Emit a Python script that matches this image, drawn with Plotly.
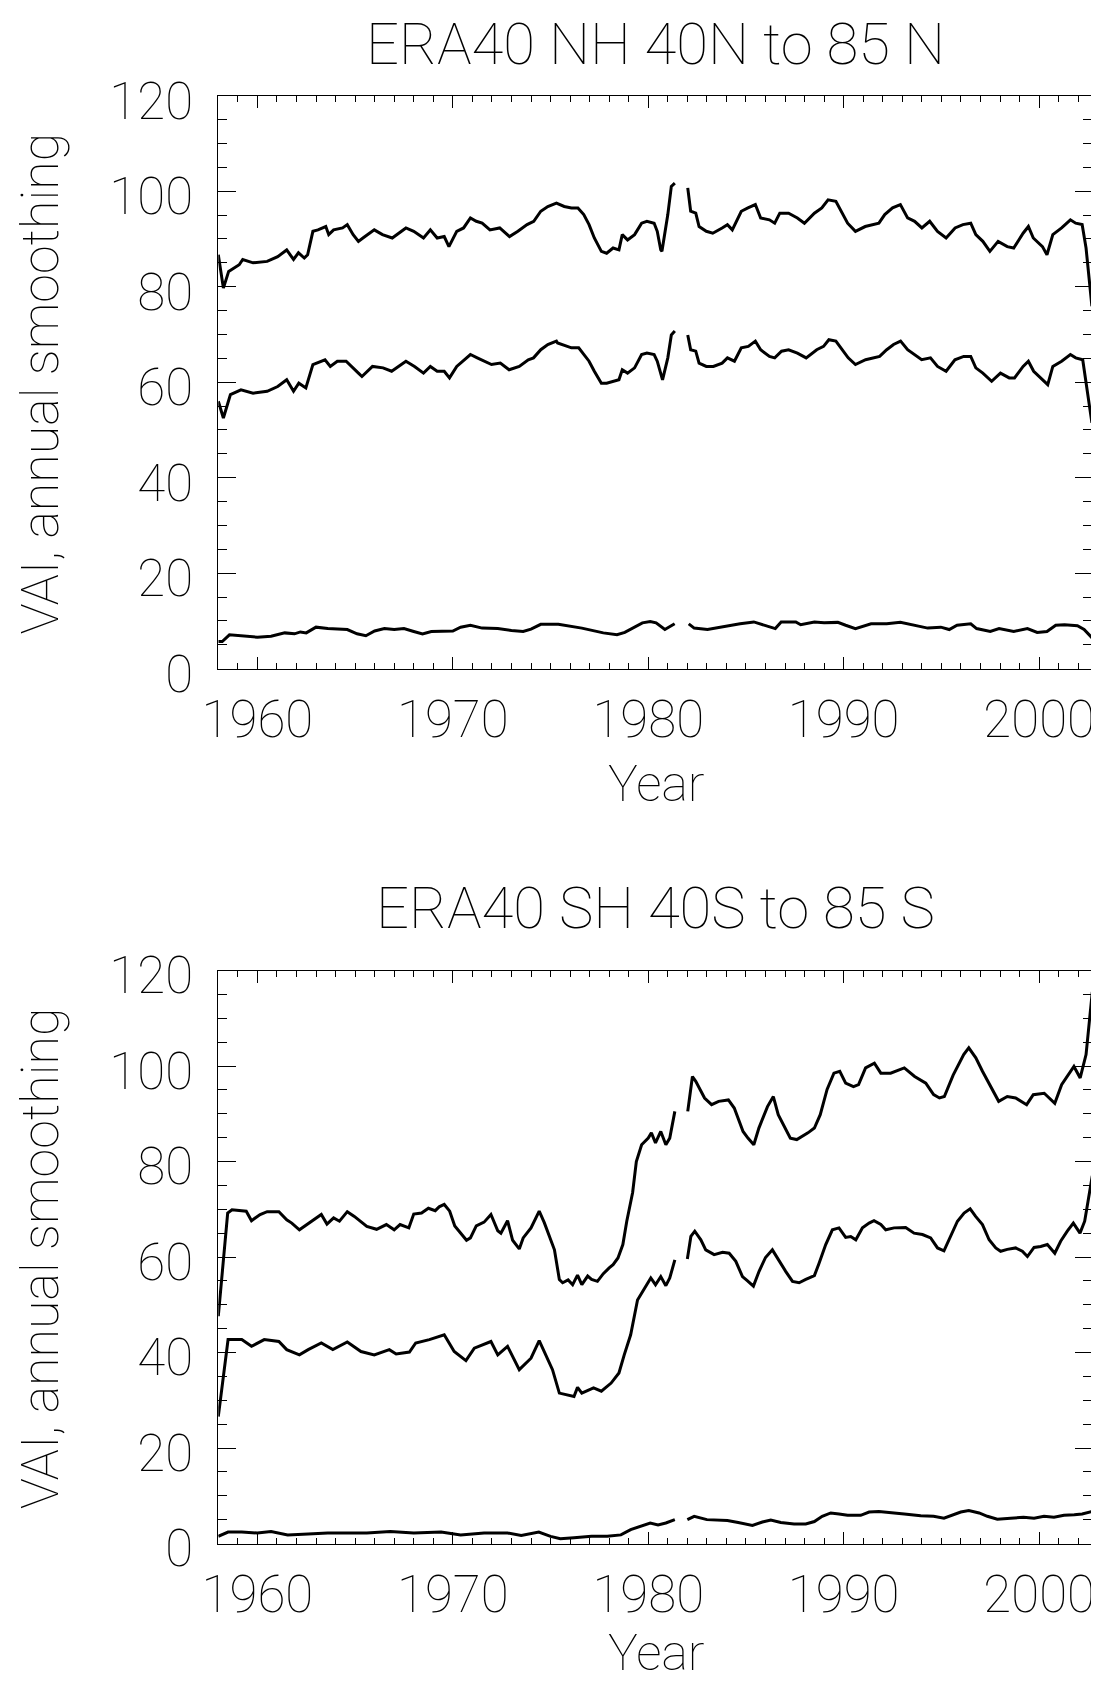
import plotly.graph_objects as go

# ---------------- data ----------------
GAP = None

nh_upper_years = [1958.0, 1958.26, 1958.53, 1959.07, 1959.25, 1959.78, 1960.5, 1961.04, 1961.5, 1961.85,
    1962.1, 1962.4, 1962.57, 1962.84, 1963.1, 1963.5, 1963.65, 1963.9, 1964.36, 1964.6, 1964.9,
    1965.17, 1965.4, 1965.98, 1966.4, 1966.9, 1967.6, 1968.0, 1968.5, 1968.85, 1969.2, 1969.56,
    1969.8, 1970.2, 1970.55, 1970.9, 1971.2, 1971.5, 1971.9, 1972.4, 1972.9, 1973.33, 1973.8,
    1974.14, 1974.5, 1974.86, 1975.3, 1975.7, 1976.07, 1976.4, 1976.7, 1976.97, 1977.24, 1977.6,
    1977.87, 1978.2, 1978.5, 1978.67, 1978.94, 1979.3, 1979.66, 1979.93, 1980.3, 1980.46, 1980.64,
    1980.7, 1981.0, 1981.18, 1981.36, 1981.7,
    1982.02, 1982.17, 1982.43, 1982.6, 1982.97, 1983.3, 1983.78, 1984.05, 1984.3, 1984.76, 1985.1,
    1985.48, 1985.75, 1986.2, 1986.47, 1986.73, 1987.18, 1987.63, 1987.99, 1988.5, 1988.88, 1989.2,
    1989.6, 1989.87, 1990.2, 1990.6, 1991.1, 1991.8, 1992.1, 1992.5, 1992.9, 1993.27, 1993.63,
    1994.0, 1994.4, 1994.8, 1995.24, 1995.7, 1996.1, 1996.5, 1996.76, 1997.12, 1997.48, 1997.9,
    1998.37, 1998.7, 1999.18, 1999.45, 1999.7, 2000.17, 2000.4, 2000.7, 2001.15, 2001.6, 2001.87,
    2002.2, 2002.4, 2002.7]
nh_upper_vals = [86.7, 79.7, 83.2, 84.6, 85.7, 85.0, 85.3, 86.3, 87.7, 85.7,
    87.1, 86.0, 86.7, 91.6, 91.9, 92.6, 90.9, 91.9, 92.3, 93.0, 90.9,
    89.5, 90.2, 91.9, 90.9, 90.2, 92.3, 91.6, 90.2, 91.9, 90.2, 90.5,
    88.4, 91.6, 92.3, 94.4, 93.7, 93.3, 91.9, 92.3, 90.5, 91.6, 93.0,
    93.7, 95.8, 96.8, 97.5, 96.8, 96.5, 96.5, 95.1, 93.0, 90.2, 87.4,
    87.0, 88.1, 87.7, 90.9, 89.8, 90.9, 93.3, 93.7, 93.3, 91.6, 87.7,
    87.4, 95.1, 101.0, 101.7, GAP,
    100.7, 95.8, 95.4, 92.6, 91.6, 91.2, 92.3, 93.0, 91.9, 95.8, 96.5,
    97.2, 94.4, 94.0, 93.3, 95.4, 95.4, 94.4, 93.3, 95.4, 96.5, 98.2,
    97.9, 95.8, 93.3, 91.6, 92.6, 93.3, 95.1, 96.5, 97.2, 94.4, 93.7,
    92.3, 93.7, 91.6, 90.2, 92.3, 93.0, 93.3, 90.9, 89.5, 87.4, 89.5,
    88.4, 88.1, 91.2, 92.6, 90.2, 88.4, 86.7, 90.9, 92.3, 94.0, 93.3,
    93.0, 88.1, 75.9]

nh_middle_years = [1958.0, 1958.26, 1958.62, 1959.16, 1959.78, 1960.5, 1961.04, 1961.5, 1961.85, 1962.12,
    1962.48, 1962.84, 1963.46, 1963.73, 1964.09, 1964.54, 1965.17, 1965.35, 1965.89, 1966.43,
    1966.87, 1967.6, 1968.04, 1968.5, 1968.85, 1969.2, 1969.56, 1969.83, 1970.2, 1970.9, 1971.25,
    1971.62, 1971.98, 1972.43, 1972.88, 1973.4, 1973.86, 1974.13, 1974.5, 1974.86, 1975.3,
    1975.36, 1976.07, 1976.44, 1976.7, 1976.97, 1977.24, 1977.6, 1977.87, 1978.2, 1978.5, 1978.67,
    1978.94, 1979.3, 1979.66, 1979.93, 1980.3, 1980.46, 1980.73, 1981.0, 1981.18, 1981.36, 1981.7,
    1982.02, 1982.17, 1982.43, 1982.6, 1982.97, 1983.33, 1983.78, 1984.05, 1984.41, 1984.76,
    1985.12, 1985.48, 1985.75, 1986.2, 1986.47, 1986.82, 1987.18, 1987.63, 1988.08, 1988.62,
    1988.97, 1989.24, 1989.6, 1989.87, 1990.23, 1990.6, 1991.12, 1991.84, 1992.2, 1992.55, 1992.91,
    1993.27, 1993.63, 1993.99, 1994.44, 1994.8, 1995.24, 1995.69, 1996.14, 1996.5, 1996.76,
    1997.12, 1997.57, 1998.02, 1998.47, 1998.74, 1999.18, 1999.45, 1999.72, 2000.08, 2000.44,
    2000.7, 2001.15, 2001.6, 2001.87, 2002.23, 2002.4, 2002.7]
nh_middle_vals = [56.0, 52.5, 57.4, 58.4, 57.7, 58.1, 59.1, 60.5, 58.1, 59.8,
    58.8, 63.7, 64.7, 63.3, 64.4, 64.4, 61.9, 61.2, 63.3, 63.0,
    62.3, 64.4, 63.3, 61.9, 63.3, 62.3, 62.3, 60.9, 63.3, 65.8, 65.1,
    64.4, 63.7, 64.0, 62.6, 63.3, 64.7, 65.1, 66.8, 67.9, 68.6,
    68.2, 67.2, 67.2, 65.8, 64.4, 62.3, 59.8, 59.8, 60.2, 60.5, 62.6,
    61.9, 63.0, 65.8, 66.1, 65.8, 64.4, 60.5, 65.1, 69.9, 70.7, GAP,
    69.9, 66.8, 66.5, 64.0, 63.3, 63.3, 64.0, 65.1, 64.4, 67.2,
    67.5, 68.6, 66.8, 65.4, 65.1, 66.5, 66.8, 66.1, 65.1, 66.8,
    67.5, 68.9, 68.6, 67.2, 65.1, 63.7, 64.7, 65.4, 66.8, 67.9, 68.6,
    66.8, 65.8, 64.7, 65.1, 63.3, 62.3, 64.7, 65.4, 65.4, 63.0,
    61.9, 60.2, 61.9, 60.9, 60.9, 63.3, 64.4, 62.3, 60.9, 59.5,
    63.3, 64.4, 65.8, 65.1, 64.7, 60.2, 51.5]

nh_lower_years = [1958.0, 1958.2, 1958.57, 1959.16, 1960.0, 1960.7, 1961.4, 1961.9, 1962.2, 1962.5,
    1963.0, 1963.6, 1964.2, 1964.6, 1965.1, 1965.55, 1966.0, 1966.5, 1967.0, 1967.5, 1968.0,
    1968.45, 1968.9, 1969.6, 1970.0, 1970.4, 1970.9, 1971.5, 1972.3, 1973.0, 1973.6, 1974.0,
    1974.5, 1975.4, 1976.6, 1977.7, 1978.4, 1978.8, 1979.7, 1980.1, 1980.4, 1980.85, 1981.35, 1981.7,
    1982.07, 1982.35, 1983.03, 1983.9, 1984.7, 1985.4, 1985.9, 1986.5, 1986.8, 1987.55, 1987.8,
    1988.5, 1989.0, 1989.7, 1990.1, 1990.6, 1991.4, 1992.2, 1992.9, 1993.6, 1994.3, 1994.97,
    1995.4, 1995.8, 1996.5, 1996.8, 1997.5, 1997.95, 1998.7, 1999.4, 1999.9, 2000.4, 2000.85,
    2001.3, 2001.96, 2002.3, 2002.72]
nh_lower_vals = [5.7, 5.7, 7.1, 6.9, 6.6, 6.8, 7.5, 7.3, 7.7, 7.5,
    8.7, 8.4, 8.2, 8.2, 7.3, 6.9, 7.9, 8.4, 8.2, 8.4, 7.8,
    7.3, 7.8, 7.8, 7.9, 8.7, 9.1, 8.5, 8.4, 8.0, 7.8, 8.3,
    9.3, 9.3, 8.5, 7.5, 7.1, 7.6, 9.6, 9.9, 9.6, 8.2, 9.4, GAP,
    9.4, 8.5, 8.2, 8.9, 9.4, 9.8, 9.1, 8.4, 9.8, 9.8, 9.2,
    9.8, 9.6, 9.7, 9.1, 8.4, 9.4, 9.4, 9.7, 9.1, 8.5, 8.7,
    8.2, 9.1, 9.4, 8.4, 7.8, 8.4, 7.8, 8.4, 7.6, 7.8, 9.1,
    9.2, 9.0, 8.2, 6.4]

sh_upper_years = [1958.0, 1958.48, 1958.7, 1959.43, 1959.7, 1960.14, 1960.5, 1961.1, 1961.5, 1961.76,
    1962.15, 1962.6, 1963.0, 1963.27, 1963.56, 1963.9, 1964.2, 1964.6, 1964.96, 1965.26, 1965.6,
    1966.1, 1966.6, 1967.0, 1967.3, 1967.75, 1968.0, 1968.4, 1968.75, 1969.1, 1969.3, 1969.56,
    1969.84, 1970.1, 1970.33, 1970.7, 1970.9, 1971.2, 1971.6, 1971.95, 1972.3, 1972.46, 1972.8,
    1973.06, 1973.4, 1973.6, 1974.0, 1974.42, 1974.68, 1975.0, 1975.2, 1975.45, 1975.62, 1975.9,
    1976.13, 1976.38, 1976.6, 1976.9, 1977.1, 1977.4, 1977.7, 1978.0, 1978.2, 1978.45, 1978.7,
    1978.9, 1979.2, 1979.39, 1979.66, 1980.0, 1980.16, 1980.37, 1980.64, 1980.9, 1981.1, 1981.36, 1981.7,
    1982.02, 1982.26, 1982.43, 1982.88, 1983.24, 1983.6, 1984.1, 1984.4, 1984.85, 1985.1, 1985.4,
    1985.66, 1986.1, 1986.4, 1986.65, 1987.0, 1987.27, 1987.6, 1988.17, 1988.5, 1988.8, 1989.15,
    1989.5, 1989.8, 1990.1, 1990.5, 1990.76, 1991.12, 1991.57, 1991.9, 1992.4, 1993.1, 1993.63,
    1994.2, 1994.6, 1994.9, 1995.15, 1995.6, 1996.14, 1996.4, 1996.76, 1997.1, 1997.57, 1997.93,
    1998.37, 1998.8, 1999.36, 1999.7, 2000.26, 2000.8, 2001.15, 2001.78, 2002.1, 2002.4, 2002.72]
sh_upper_vals = [47.6, 69.2, 69.9, 69.6, 67.6, 68.9, 69.5, 69.5, 67.8, 67.1,
    65.7, 67.0, 68.2, 68.9, 66.9, 68.2, 67.5, 69.5, 68.5, 67.5, 66.4,
    65.8, 66.8, 65.7, 66.8, 66.1, 69.0, 69.2, 70.2, 69.7, 70.5, 71.0,
    69.6, 66.5, 65.4, 63.5, 64.0, 66.5, 67.3, 68.9, 65.5, 65.0, 67.6,
    63.5, 61.7, 64.0, 66.1, 69.6, 67.2, 63.8, 61.5, 55.3, 54.6, 55.2,
    54.2, 56.2, 54.2, 56.0, 55.3, 54.9, 56.5, 57.7, 58.4, 59.8, 62.6,
    67.5, 73.5, 80.0, 83.5, 84.9, 86.0, 83.9, 86.3, 83.5, 84.9, 90.5, GAP,
    90.5, 97.8, 96.8, 93.3, 91.9, 92.6, 92.9, 91.2, 86.3, 84.9, 83.5,
    87.0, 91.5, 93.6, 89.8, 87.0, 84.9, 84.6, 86.0, 87.0, 89.8, 95.1,
    98.5, 98.9, 96.4, 95.7, 96.1, 99.6, 100.6, 98.5, 98.5, 99.6, 97.8,
    96.4, 94.0, 93.3, 93.6, 98.1, 102.4, 103.8, 101.7, 98.9, 95.4, 92.6,
    93.6, 93.3, 91.9, 94.0, 94.3, 92.2, 96.1, 99.9, 97.5, 102.4, 115.5]

sh_middle_years = [1958.0, 1958.5, 1959.2, 1959.7, 1960.35, 1961.1, 1961.5, 1962.15, 1962.6, 1963.27,
    1963.86, 1964.6, 1965.3, 1965.98, 1966.75, 1967.1, 1967.78, 1968.1, 1968.8, 1969.56, 1970.07,
    1970.67, 1971.1, 1971.95, 1972.3, 1972.8, 1973.4, 1974.0, 1974.42, 1974.68, 1975.1, 1975.45,
    1975.8, 1976.2, 1976.38, 1976.6, 1977.2, 1977.6, 1978.1, 1978.5, 1978.77, 1979.1, 1979.45,
    1979.8, 1980.13, 1980.37, 1980.64, 1980.9, 1981.1, 1981.36, 1981.7,
    1982.0, 1982.18, 1982.38, 1982.69, 1982.94, 1983.37, 1983.8, 1984.14, 1984.48, 1984.82,
    1985.08, 1985.38, 1985.67, 1986.0, 1986.35, 1986.7, 1987.03, 1987.38, 1987.72, 1988.06,
    1988.5, 1988.74, 1989.08, 1989.42, 1989.76, 1990.1, 1990.36, 1990.62, 1990.96, 1991.3,
    1991.55, 1991.9, 1992.15, 1992.58, 1993.17, 1993.6, 1994.03, 1994.45, 1994.8, 1995.13,
    1995.48, 1995.82, 1996.16, 1996.47, 1996.75, 1997.1, 1997.44, 1997.78, 1998.03, 1998.37,
    1998.8, 1999.14, 1999.4, 1999.74, 2000.08, 2000.42, 2000.8, 2001.1, 2001.44, 2001.75,
    2002.09, 2002.33, 2002.5, 2002.72]
sh_middle_vals = [26.6, 42.7, 42.7, 41.3, 42.7, 42.3, 40.6, 39.5, 40.6, 42.0,
    40.6, 42.2, 40.2, 39.5, 40.6, 39.7, 40.1, 42.0, 42.7, 43.7, 40.2,
    38.3, 40.9, 42.3, 39.5, 41.3, 36.4, 38.8, 42.5, 40.2, 36.4, 31.5,
    31.2, 30.8, 32.7, 31.5, 32.6, 31.9, 33.6, 35.7, 39.5, 43.7, 51.0,
    53.5, 55.6, 54.2, 55.9, 54.0, 55.6, 59.4, GAP,
    59.6, 64.3, 65.4, 63.6, 61.5, 60.5, 61.0, 60.8, 59.1, 55.9,
    55.0, 53.9, 57.0, 59.9, 61.5, 59.1, 57.0, 54.9, 54.6, 55.3,
    56.1, 58.7, 62.6, 65.7, 66.1, 64.1, 64.3, 63.6, 66.1, 67.1,
    67.6, 66.8, 65.7, 66.1, 66.2, 65.0, 64.7, 64.0, 61.9, 61.3,
    64.3, 67.5, 69.2, 70.1, 68.5, 66.8, 63.6, 61.9, 61.2, 61.6,
    61.9, 61.2, 60.1, 62.0, 62.2, 62.6, 60.8, 63.3, 65.4, 67.1,
    65.0, 67.5, 71.6, 77.0]

sh_lower_years = [1958.0, 1958.5, 1959.2, 1960.0, 1960.7, 1961.55, 1962.6, 1963.6, 1964.6, 1965.6,
    1966.8, 1968.0, 1969.4, 1970.4, 1971.6, 1972.8, 1973.5, 1974.4, 1975.0, 1975.5, 1976.2,
    1977.1, 1977.9, 1978.6, 1979.1, 1979.6, 1980.1, 1980.5, 1980.9, 1981.36, 1981.7,
    1982.0, 1982.35, 1983.0, 1984.05, 1984.6, 1985.33, 1985.84, 1986.27, 1986.78, 1987.46,
    1988.06, 1988.5, 1988.9, 1989.34, 1989.76, 1990.2, 1990.87, 1991.3, 1991.8, 1992.4, 1993.1,
    1993.94, 1994.6, 1995.13, 1995.56, 1995.99, 1996.4, 1996.93, 1997.35, 1997.86, 1998.54,
    1999.2, 1999.74, 2000.25, 2000.76, 2001.27, 2001.8, 2002.2, 2002.72]
sh_lower_vals = [1.5, 2.4, 2.4, 2.2, 2.5, 1.8, 2.0, 2.2, 2.2, 2.2,
    2.5, 2.2, 2.4, 1.8, 2.2, 2.2, 1.7, 2.4, 1.5, 1.0, 1.2,
    1.5, 1.5, 1.8, 2.9, 3.6, 4.3, 3.9, 4.3, 5.0, GAP,
    5.0, 5.7, 5.0, 4.8, 4.4, 3.8, 4.5, 4.9, 4.4, 4.1,
    4.1, 4.6, 5.7, 6.4, 6.2, 5.9, 5.9, 6.6, 6.7, 6.5, 6.2,
    5.8, 5.7, 5.3, 6.0, 6.6, 6.9, 6.4, 5.7, 5.1, 5.3,
    5.5, 5.3, 5.7, 5.5, 5.9, 6.0, 6.2, 6.7]

titles = ["ERA40 NH 40N to 85 N", "ERA40 SH 40S to 85 S"]
y_title = "VAI, annual smoothing"
x_title = "Year"
x_range = [1958.0, 2002.72]
y_range = [0, 120]

# ---------------- figure ----------------
FONT = "Roboto"
WEIGHT = 100
W, H = 1099, 1682
fig = go.Figure()

panels = [
    ("x", "y", [(nh_upper_years, nh_upper_vals), (nh_middle_years, nh_middle_vals), (nh_lower_years, nh_lower_vals)]),
    ("x2", "y2", [(sh_upper_years, sh_upper_vals), (sh_middle_years, sh_middle_vals), (sh_lower_years, sh_lower_vals)]),
]
for xa, ya, series in panels:
    for xs, ys in series:
        fig.add_trace(go.Scatter(x=xs, y=ys, mode="lines", xaxis=xa, yaxis=ya,
                                 line=dict(color="black", width=3), connectgaps=False,
                                 showlegend=False, hoverinfo="skip"))

x_dom = [210.3 / W, 1084.3 / W]
y_doms = [[1 - 660.7 / H, 1 - 87.7 / H], [1 - 1535.5 / H, 1 - 962.5 / H]]

tickfont = dict(family=FONT, size=51, color="black", weight=WEIGHT)
xaxis_common = dict(range=x_range, domain=x_dom, showgrid=False, zeroline=False, automargin=False,
                    showline=True, linecolor="black", linewidth=1, mirror="ticks",
                    ticks="inside", ticklen=12, tickwidth=1, tickcolor="black",
                    tick0=1960, dtick=10, tickfont=tickfont, ticklabelstandoff=6,
                    minor=dict(ticks="inside", ticklen=6, dtick=1, tick0=1958, tickcolor="black", tickwidth=1))
yaxis_common = dict(range=y_range, showgrid=False, zeroline=False, automargin=False,
                    showline=True, linecolor="black", linewidth=1, mirror="ticks",
                    ticks="inside", ticklen=17.5, tickwidth=1, tickcolor="black",
                    tick0=0, dtick=20, tickfont=tickfont, ticklabelstandoff=14, ticklabelshift=5,
                    minor=dict(ticks="inside", ticklen=9, dtick=5, tickcolor="black", tickwidth=1))

fig.update_layout(
    template="none",
    width=W, height=H, margin=dict(l=0, r=0, t=0, b=0, pad=0),
    paper_bgcolor="white", plot_bgcolor="white",
    font=dict(family=FONT, color="black", weight=WEIGHT),
    xaxis=dict(**xaxis_common, anchor="y"),
    yaxis=dict(**yaxis_common, domain=y_doms[0], anchor="x"),
    xaxis2=dict(**xaxis_common, anchor="y2"),
    yaxis2=dict(**yaxis_common, domain=y_doms[1], anchor="x2"),
)

xc = (x_dom[0] + x_dom[1]) / 2
ann_font_title = dict(family=FONT, size=58, color="black", weight=WEIGHT)
ann_font_axis = dict(family=FONT, size=52, color="black", weight=WEIGHT)
ann_font_x = dict(family=FONT, size=50, color="black", weight=WEIGHT)
title_y = [1 - 36.0 / H, 1 - 900.0 / H]
ytitle_y = [1 - 375.5 / H, 1 - 1250.3 / H]
xtitle_y = [1 - 776.0 / H, 1 - 1645.0 / H]
for i in range(2):
    fig.add_annotation(text=titles[i], x=xc, y=title_y[i], xref="paper", yref="paper",
                       xanchor="center", yanchor="middle", showarrow=False, font=ann_font_title)
    fig.add_annotation(text=y_title, x=32 / W, y=ytitle_y[i], xref="paper", yref="paper",
                       xanchor="center", yanchor="middle", showarrow=False, textangle=-90,
                       font=ann_font_axis)
    fig.add_annotation(text=x_title, x=648 / W, y=xtitle_y[i], xref="paper", yref="paper",
                       xanchor="center", yanchor="middle", showarrow=False, font=ann_font_x)

fig.write_html("out.html")
